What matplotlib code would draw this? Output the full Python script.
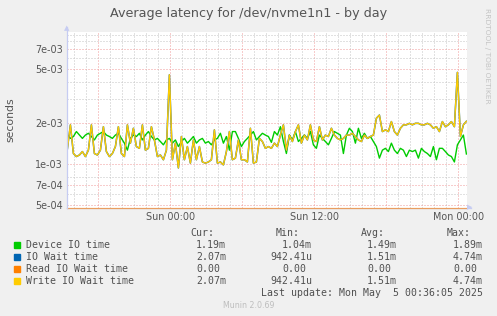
import numpy as np
import pandas as pd
import matplotlib
matplotlib.use("Agg")
import matplotlib.pyplot as plt
from matplotlib.lines import Line2D
from matplotlib.patches import Rectangle

# ---------------- data ----------------
times = pd.date_range("2025-05-03 15:25", periods=134, freq="15min")

device_io_ms = [
    1.64, 1.55, 1.60, 1.74, 1.64, 1.55, 1.64, 1.69, 1.60, 1.51, 1.64, 1.69, 1.74, 1.64, 1.60, 1.55, 1.64, 1.69, 1.55, 1.43, 1.27, 1.55, 1.64,
    1.60, 1.69, 1.51, 1.64, 1.74, 1.60, 1.51, 1.55, 1.47, 1.39, 1.51, 1.55, 1.43, 1.51, 1.35, 1.47, 1.55, 1.43, 1.51, 1.60, 1.43, 1.51, 1.55,
    1.43, 1.47, 1.39, 1.51, 1.55, 1.69, 1.43, 1.60, 1.27, 1.74, 1.74, 1.55, 1.35, 1.47, 1.55, 1.64, 1.74, 1.51, 1.60, 1.69, 1.64, 1.60, 1.45,
    1.74, 1.64, 1.89, 1.47, 1.20, 1.64, 1.51, 1.74, 1.47, 1.55, 1.64, 1.55, 1.74, 1.39, 1.31, 1.64, 1.55, 1.47, 1.39, 1.55, 1.74, 1.69, 1.64,
    1.20, 1.64, 1.84, 1.74, 1.43, 1.84, 1.55, 1.69, 1.55, 1.60, 1.47, 1.35, 1.11, 1.27, 1.31, 1.24, 1.43, 1.27, 1.20, 1.31, 1.27, 1.14,
    1.27, 1.24, 1.27, 1.11, 1.31, 1.24, 1.20, 1.14, 1.35, 1.08, 1.31, 1.31, 1.24, 1.17, 1.14, 1.04, 1.39, 1.51, 1.64, 1.19,
]

write_wait_ms = [
    1.30, 1.95, 1.20, 1.14, 1.17, 1.24, 1.14, 1.27, 1.95, 1.20, 1.17, 1.27, 1.89, 1.24, 1.14, 1.20, 1.35, 1.89, 1.20, 1.14, 1.95, 1.43, 1.84,
    1.35, 1.31, 1.95, 1.27, 1.31, 1.89, 1.51, 1.14, 1.17, 1.08, 1.27, 4.55, 1.08, 1.43, 0.94, 1.60, 1.08, 1.35, 1.02, 1.51, 1.08, 1.35, 1.04,
    1.02, 1.04, 1.08, 1.79, 1.02, 1.04, 0.99, 1.24, 1.74, 1.08, 1.11, 1.51, 1.08, 1.08, 1.04, 1.84, 1.02, 1.04, 1.55, 1.47, 1.31, 1.35, 1.31,
    1.43, 1.35, 1.64, 1.95, 1.27, 1.64, 1.47, 1.74, 1.95, 1.43, 1.64, 1.51, 1.95, 1.51, 1.47, 1.89, 1.51, 1.64, 1.60, 1.84, 1.64, 1.55, 1.51,
    1.55, 1.64, 1.64, 1.69, 1.60, 1.51, 1.47, 1.64, 1.55, 1.60, 1.64, 2.18, 2.30, 1.74, 1.79, 1.74, 2.06, 1.74, 1.64, 1.84, 1.95, 1.95,
    2.00, 1.95, 2.00, 2.00, 1.95, 1.95, 2.00, 1.95, 1.84, 1.89, 1.74, 2.06, 1.89, 1.95, 2.06, 1.89, 4.74, 1.60, 1.95, 2.07,
]

io_wait_ms = list(write_wait_ms)          # IO Wait time equals Write IO Wait time
read_wait_ms = [0.0] * len(times)

series_names = ["Device IO time", "IO Wait time", "Read IO Wait time", "Write IO Wait time"]
series_colors = ["#00CC00", "#0066B3", "#FF8000", "#FFCC00"]
stat_cur = ["1.19m", "2.07m", "0.00", "2.07m"]
stat_min = ["1.04m", "942.41u", "0.00", "942.41u"]
stat_avg = ["1.49m", "1.51m", "0.00", "1.51m"]
stat_max = ["1.89m", "4.74m", "0.00", "4.74m"]
stat_headers = ["Cur:", "Min:", "Avg:", "Max:"]

ytick_values = [5e-4, 7e-4, 1e-3, 2e-3, 5e-3, 7e-3]
ytick_labels = ["5e-04", "7e-04", "1e-03", "2e-03", "5e-03", "7e-03"]
yminor_values = [6e-4, 8e-4, 3e-3, 4e-3, 6e-3, 8e-3, 9e-3]
xtick_times = pd.to_datetime(["2025-05-04 00:00", "2025-05-04 12:00", "2025-05-05 00:00"])
xtick_labels = ["Sun 00:00", "Sun 12:00", "Mon 00:00"]

title = "Average latency for /dev/nvme1n1 - by day"
last_update = "Last update: Mon May  5 00:36:05 2025"

# ---------------- figure ----------------
W, H = 497, 316
fig = plt.figure(figsize=(W / 100, H / 100), dpi=100, facecolor="#F0F0F0")
L, R, T, B = 67, 467, 32, 208
ax = fig.add_axes([L / W, 1 - B / H, (R - L) / W, (B - T) / H])
ax.set_facecolor("white")
ax.set_yscale("log")
ymin, ymax = 4.77e-4, 9.39e-3
ax.set_ylim(ymin, ymax)
x0 = pd.Timestamp("2025-05-03 15:23")
x1 = x0 + pd.Timedelta(minutes=2000)
ax.set_xlim(x0, x1)

grid_gray = "#C4C4C4"
grid_red = "#F09A9A"
dash = (0, (1, 2))
# vertical grid
for t in pd.date_range("2025-05-03 16:00", "2025-05-05 00:00", freq="1h"):
    major = t.hour % 6 == 0
    ax.axvline(t, color=grid_red if major else grid_gray, lw=0.72, ls=dash, zorder=1)
for v in yminor_values:
    ax.axhline(v, color=grid_gray, lw=0.72, ls=dash, zorder=1)
for v in ytick_values:
    ax.axhline(v, color=grid_red, lw=0.72, ls=dash, zorder=1)

dev = np.array(device_io_ms) * 1e-3
iow = np.array(io_wait_ms) * 1e-3
rdw = np.array(read_wait_ms) * 1e-3
wrw = np.array(write_wait_ms) * 1e-3

ax.plot(times, dev, color=series_colors[0], lw=1.0, zorder=3)
ax.plot(times, iow, color=series_colors[1], lw=1.1, zorder=3)
# zero values sit on the bottom edge of the log axis (as rrdtool clips them)
ax.plot(times, np.clip(rdw, ymin, None), color=series_colors[2], lw=0.9, alpha=0.6,
        zorder=6, clip_on=False)
ax.plot(times, wrw, color=series_colors[3], lw=1.0, zorder=4)

ax.set_yticks(ytick_values)
ax.set_yticklabels(ytick_labels)
ax.set_yticks([], minor=True)
ax.set_xticks(xtick_times)
ax.set_xticklabels(xtick_labels)
ax.tick_params(axis="both", length=0, labelsize=6.9, colors="#555555", pad=3)
ax.set_ylabel("seconds", fontsize=7.8, color="#555555", labelpad=14)

for s in ["top", "right", "left", "bottom"]:
    ax.spines[s].set_visible(False)
axis_col = "#C6CCF2"
fig.add_artist(Line2D([L / W, L / W], [1 - B / H, 1 - 27 / H], color=axis_col, lw=0.9))
fig.add_artist(Line2D([L / W, 471 / W], [1 - B / H, 1 - B / H], color=axis_col, lw=0.9, zorder=0))
fig.text(L / W, 1 - 28 / H, "\u25B2", color=axis_col, fontsize=5, ha="center", va="center")
fig.text(470 / W, 1 - 207 / H, "\u25B6", color=axis_col, fontsize=5, ha="center", va="center")

fig.text(248.5 / W, 1 - 13 / H, title, fontsize=9.2, color="#555555", ha="center", va="center")
fig.text(487.5 / W, 1 - 56 / H, "RRDTOOL / TOBI OETIKER", fontsize=5.4, color="#C4C4C4",
         rotation=270, ha="center", va="center")

# ---------------- legend ----------------
mono = "DejaVu Sans Mono"
lfs = 7.1
cw = 0.602 * lfs * 100 / 72
txt_col = "#505050"
head_x = [190.7, 276, 361, 446.7]
col_end = [226, 312, 397, 483]
for hx, h in zip(head_x, stat_headers):
    fig.text(hx / W, 1 - 232.5 / H, h, family=mono, fontsize=lfs, color=txt_col, ha="left", va="center")
row_y = [245, 257, 269, 281]
for k in range(4):
    y = 1 - row_y[k] / H
    fig.add_artist(Rectangle((14 / W, 1 - (row_y[k] + 3) / H), 6 / W, 6 / H,
                             color=series_colors[k], transform=fig.transFigure))
    fig.text(26 / W, y, series_names[k], family=mono, fontsize=lfs, color=txt_col, ha="left", va="center")
    for ce, vals in zip(col_end, [stat_cur, stat_min, stat_avg, stat_max]):
        s = vals[k]
        xe = ce - (cw if s[-1].isdigit() else 0)
        fig.text(xe / W, y, s, family=mono, fontsize=lfs, color=txt_col, ha="right", va="center")
fig.text(483 / W, 1 - 293 / H, last_update, family=mono, fontsize=lfs, color=txt_col, ha="right", va="center")
fig.text(249 / W, 1 - 305 / H, "Munin 2.0.69", fontsize=5.7, color="#BEBEBE", ha="center", va="center")

fig.savefig("out.png", dpi=100, facecolor=fig.get_facecolor())
